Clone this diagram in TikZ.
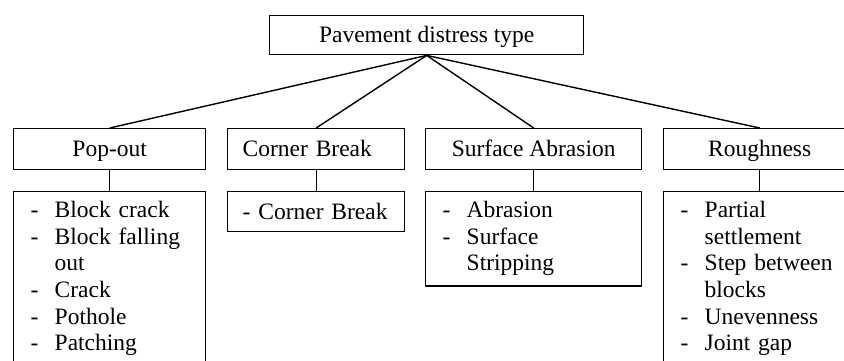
\documentclass[tikz,border=0pt]{standalone}
\usepackage{fontspec}
\setmainfont{Liberation Serif}

\newlength{\dashw}
\setlength{\dashw}{24pt}
\newcommand{\itm}[1]{\strut\makebox[\dashw][l]{-}#1}
\newcommand{\cnt}[1]{\strut\hspace*{\dashw}#1}

\begin{document}
\begin{tikzpicture}[x=1pt, y=-1pt,
    box/.style={draw, line width=1.4pt, inner sep=0pt, anchor=north west,
      font=\fontsize{23.5}{26.7}\selectfont},
    head/.style={box, minimum height=41pt, text height=17pt, text depth=2pt, align=center},
    list/.style={box, inner xsep=17pt, inner ysep=7pt, align=left},
    link/.style={line width=1.4pt}]

    % Marco
    \path[use as bounding box, clip] (0, 0) rectangle (844, 361);

    % Raiz
    \node[head, minimum width=314pt, minimum height=39pt] (root) at (269, 15) {Pavement distress type};

    % Tipos
    \node[head, minimum width=192pt] (popout) at (13, 128) {Pop-out};
    \node[head, inner xsep=15pt, text width=147pt, align=left] (corner) at (227, 128) {Corner Break};
    \node[head, minimum width=216pt] (abrasion) at (425, 128) {Surface Abrasion};
    \node[head, minimum width=192pt] (rough) at (663, 128) {Roughness};

    % Listas
    \node[list, text width=158pt] (popoutlist) at (13, 191)
      {\itm{Block crack}\\ \itm{Block falling}\\ \cnt{out}\\ \itm{Crack}\\ \itm{Pothole}\\ \itm{Patching}\\ \cnt{}};
    \node[list, inner xsep=15pt, inner ysep=0pt, text width=147pt, minimum height=40pt] (cornerlist) at (227, 191)
      {- Corner Break};
    \node[list, text width=182pt, minimum height=94pt] (abrasionlist) at (425, 191)
      {\itm{Abrasion}\\ \itm{Surface}\\ \cnt{Stripping}};
    \node[list, text width=158pt] (roughlist) at (663, 191)
      {\itm{Partial}\\ \cnt{settlement}\\ \itm{Step between}\\ \cnt{blocks}\\ \itm{Unevenness}\\ \itm{Joint gap}\\ \cnt{}};

    % Conectores
    \foreach \t in {popout, corner, abrasion, rough}
      \draw[link] (root.south) -- (\t.north);
    \foreach \t in {popout, corner, abrasion, rough}
      \draw[link] (\t.south) -- (\t list.north);

  \end{tikzpicture}
\end{document}
